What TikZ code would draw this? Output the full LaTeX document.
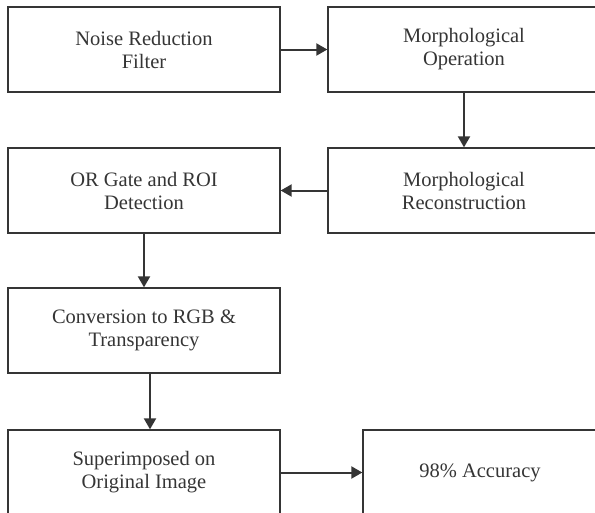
\documentclass[tikz,border=0pt]{standalone}
\usepackage{fontspec}
\setmainfont{Liberation Serif}
\usetikzlibrary{arrows.meta}
\definecolor{ink}{HTML}{353535}
\begin{document}
\begin{tikzpicture}[x=1pt,y=-1pt,
	box/.style={draw=ink,line width=1.3pt,minimum width=272pt,minimum height=85pt,align=center,text=ink,font=\fontsize{20.5}{23}\selectfont},
	arr/.style={draw=ink,line width=2pt,-{Triangle[length=11pt,width=12pt]}}]
					\useasboundingbox (0,0) rectangle (595,512);
					\node (noise) at (144,49.5)[box]{Noise Reduction\\Filter};
					\node (oper) at (464,49.5)[box]{Morphological\\Operation};
					\node (recon) at (464,190.5)[box]{Morphological\\Reconstruction};
					\node (roi) at (144,190.5)[box]{OR Gate and ROI\\Detection};
					\node (rgb) at (144,330.5)[box]{Conversion to RGB \&\\Transparency};
					\node (sup) at (144,472.5)[box]{Superimposed on\\Original Image};
					\node (acc) at (480,472.5)[box,minimum width=234pt]{98\% Accuracy};
					\draw[arr] (noise) -- (oper);
					\draw[arr] (oper) -- (recon);
					\draw[arr] (recon) -- (roi);
					\draw[arr] (roi) -- (rgb);
					\draw[arr] ([xshift=6pt]rgb.south) -- ([xshift=6pt]sup.north);
					\draw[arr] (sup) -- (acc);
				\end{tikzpicture}
\end{document}
